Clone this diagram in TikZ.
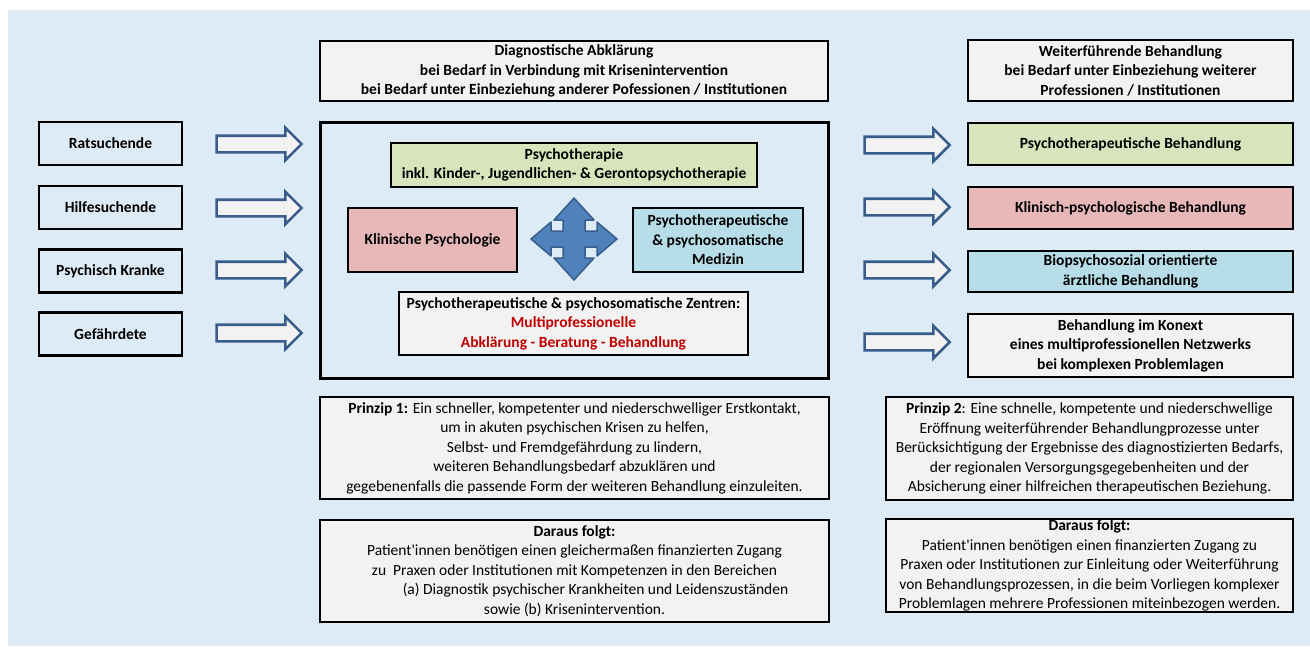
\documentclass[tikz,border=0pt]{standalone}
\usepackage{fontspec}
\setmainfont{Carlito}
\usetikzlibrary{shapes.arrows}
\definecolor{bgblue}{RGB}{221,235,247}
\definecolor{boxgrey}{RGB}{242,242,242}
\definecolor{boxgreen}{RGB}{216,228,188}
\definecolor{boxpink}{RGB}{230,184,183}
\definecolor{boxcyan}{RGB}{183,222,232}
\definecolor{arrowblue}{RGB}{56,93,138}
\definecolor{crossblue}{RGB}{79,129,189}
\definecolor{textred}{RGB}{192,0,0}
\tikzset{
  box/.style={draw, line width=2pt, align=center, inner sep=0pt, font=\bfseries},
  leftbox/.style={box, line width=2.5pt, minimum width=143pt, minimum height=43pt},
  rightbox/.style={box, minimum width=325pt},
  infobox/.style={draw, line width=2pt, fill=boxgrey, align=center, inner sep=0pt},
  blockarrow/.style={single arrow, draw=arrowblue, fill=boxgrey, line width=2.6pt,
    minimum height=85pt, inner xsep=0pt, inner ysep=7pt,
    single arrow head extend=8pt, single arrow tip angle=90},
  quadarrow/.style={draw=arrowblue, fill=crossblue, line width=1.5pt, line join=round}
}
\begin{document}
\fontsize{15.5pt}{19.5pt}\selectfont
\begin{tikzpicture}[x=1pt,y=-1pt]
\fill[bgblue] (8,10) rectangle (1310,646);
\useasboundingbox (0,0) rectangle (1310,646);

% Personen
\node[leftbox] (rat) at (110.5,143.5) {Ratsuchende};
\node[leftbox] (hilfe) at (110.5,207.5) {Hilfesuchende};
\node[leftbox] (krank) at (110.5,271) {Psychisch Kranke};
\node[leftbox] (gef) at (110.5,334) {Gefährdete};

\foreach \y/\n in {144/1,208/2,270/3,333/4}
  \node[blockarrow] (la\n) at (255,\y) {};

% Abklaerung
\node[box, fill=boxgrey, minimum width=508pt, minimum height=60pt] (diag) at (574,71)
  {Diagnostische Abklärung\\bei Bedarf in Verbindung mit Krisenintervention\\bei Bedarf unter Einbeziehung anderer Pofessionen / Institutionen};
\node[draw, line width=3pt, minimum width=508pt, minimum height=256pt] (main) at (574,250) {};
\node[box, fill=boxgreen, minimum width=366pt, minimum height=44pt] (psy) at (574,165)
  {Psychotherapie\\inkl. Kinder-, Jugendlichen- \& Gerontopsychotherapie};
\node[box, fill=boxpink, minimum width=169pt, minimum height=64pt] (klin) at (432.5,240)
  {Klinische Psychologie};
\node[box, fill=boxcyan, minimum width=170pt, minimum height=64pt] (med) at (718,240)
  {Psychotherapeutische\\\& psychosomatische\\Medizin};
\node[box, fill=boxgrey, minimum width=349pt, minimum height=63pt] (zent) at (573.5,323.5)
  {Psychotherapeutische \& psychosomatische Zentren:\\\color{textred}Multiprofessionelle\\\color{textred}Abklärung - Beratung - Behandlung};
\coordinate (crossc) at (574,239);
\draw[quadarrow, shift={(crossc)}] (0,-41) -- (20,-19) -- (11,-19) -- (11,-8) -- (23,-8) -- (23,-17)
  -- (43,0) -- (23,17) -- (23,8) -- (11,8) -- (11,19) -- (20,19) -- (0,41) -- (-20,19)
  -- (-11,19) -- (-11,8) -- (-23,8) -- (-23,17) -- (-43,0) -- (-23,-17) -- (-23,-8)
  -- (-11,-8) -- (-11,-19) -- (-20,-19) -- cycle;

\foreach \y/\n in {145/1,207/2,270/3,342/4}
  \node[blockarrow] (ra\n) at (903,\y) {};

% Behandlung
\node[rightbox, fill=boxgrey, minimum height=61pt] (weiter) at (1130.5,70.5)
  {Weiterführende Behandlung\\bei Bedarf unter Einbeziehung weiterer\\Professionen / Institutionen};
\node[rightbox, fill=boxgreen, minimum height=42pt] (pb) at (1130.5,144)
  {Psychotherapeutische Behandlung};
\node[rightbox, fill=boxpink, minimum height=42pt] (kpb) at (1130.5,208)
  {Klinisch-psychologische Behandlung};
\node[rightbox, fill=boxcyan, minimum height=41pt] (bio) at (1130.5,271.5)
  {Biopsychosozial orientierte\\ärztliche Behandlung};
\node[rightbox, fill=boxgrey, minimum height=63pt] (netz) at (1130.5,345.5)
  {Behandlung im Konext\\eines multiprofessionellen Netzwerks\\bei komplexen Problemlagen};

% Prinzipien
\node[infobox, minimum width=509pt, minimum height=102pt] (p1) at (574.5,448)
  {\textbf{Prinzip 1:} Ein schneller, kompetenter und niederschwelliger Erstkontakt,\\
   um in akuten psychischen Krisen zu helfen,\\Selbst- und Fremdgefährdung zu lindern,\\
   weiteren Behandlungsbedarf abzuklären und\\
   gegebenenfalls die passende Form der weiteren Behandlung einzuleiten.};
\node[infobox, minimum width=509pt, minimum height=102pt] (f1) at (574.5,571)
  {\textbf{Daraus folgt:}\\Patient\textquotesingle innen benötigen einen gleichermaßen finanzierten Zugang\\
   zu~ Praxen oder Institutionen mit Kompetenzen in den Bereichen\\
   \hspace*{42pt}(a) Diagnostik psychischer Krankheiten und Leidenszuständen\\
   sowie (b) Krisenintervention.};
\node[infobox, minimum width=407pt, minimum height=103pt] (p2) at (1089.5,448.5)
  {\textbf{Prinzip 2}: Eine schnelle, kompetente und niederschwellige\\
   Eröffnung weiterführender Behandlungprozesse unter\\
   Berücksichtigung der Ergebnisse des diagnostizierten Bedarfs,\\
   der regionalen Versorgungsgegebenheiten und der\\
   Absicherung einer hilfreichen therapeutischen Beziehung.};
\node[infobox, minimum width=407pt, minimum height=93pt] (f2) at (1089.5,565.5)
  {\textbf{Daraus folgt:}\\Patient\textquotesingle innen benötigen einen finanzierten Zugang zu\\
   Praxen oder Institutionen zur Einleitung oder Weiterführung\\
   von Behandlungsprozessen, in die beim Vorliegen komplexer\\
   Problemlagen mehrere Professionen miteinbezogen werden.};
\end{tikzpicture}
\end{document}
